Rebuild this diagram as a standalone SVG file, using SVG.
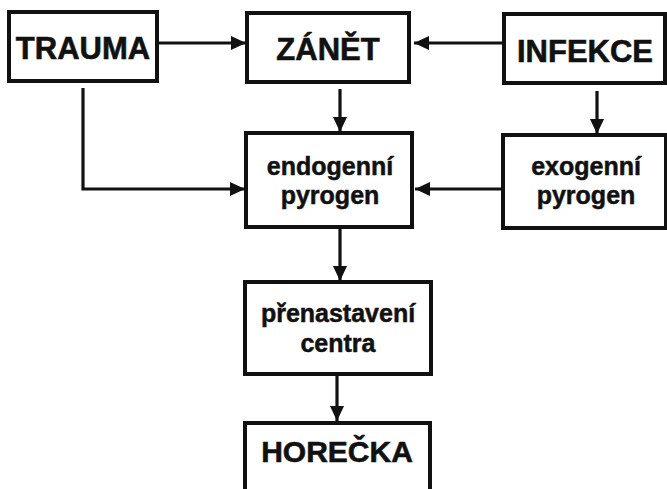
<svg xmlns="http://www.w3.org/2000/svg" width="667" height="489" viewBox="0 0 667 489">
  <style>
    .box { fill: #ffffff; stroke: #111111; stroke-width: 4; }
    .big { font-family: "Liberation Sans", Arial, sans-serif; font-weight: bold; font-size: 31px; fill: #111111; stroke: #111111; stroke-width: 0.6; text-anchor: middle; }
    .small { font-family: "Liberation Sans", Arial, sans-serif; font-weight: bold; font-size: 25px; fill: #111111; stroke: #111111; stroke-width: 0.5; text-anchor: middle; }
    .link { fill: none; stroke: #111111; stroke-width: 3.2; marker-end: url(#arrow); }
  </style>
  <defs>
    <marker id="arrow" viewBox="0 0 15 14" refX="15" refY="7" markerWidth="15" markerHeight="14" markerUnits="userSpaceOnUse" orient="auto">
      <path d="M0,0 L15,7 L0,14 z" fill="#111111"/>
    </marker>
  </defs>
  <rect width="667" height="489" fill="#ffffff"/>

  <!-- arrows between the boxes -->
  <g id="connectors">
    <path class="link" d="M159,43 H246"/>
    <path class="link" d="M502,43 H414"/>
    <path class="link" d="M340,89 V132"/>
    <path class="link" d="M597,91 V134"/>
    <path class="link" d="M83,88 V189 H245"/>
    <path class="link" d="M501,189 H415"/>
    <path class="link" d="M340,229 V281"/>
    <path class="link" d="M337,376 V421"/>
  </g>

  <g id="trauma">
    <rect class="box" x="9" y="12" width="148" height="69"/>
    <text class="big" x="83" y="59">TRAUMA</text>
  </g>
  <g id="zanet">
    <rect class="box" x="247" y="13" width="162" height="69"/>
    <text class="big" x="328" y="60">ZÁNĚT</text>
  </g>
  <g id="infekce">
    <rect class="box" x="504" y="14" width="161" height="69"/>
    <text class="big" x="585" y="62">INFEKCE</text>
  </g>
  <g id="endogenni-pyrogen">
    <rect class="box" x="246" y="133" width="166" height="94"/>
    <text class="small" x="330" y="175">endogenní</text>
    <text class="small" x="330" y="204">pyrogen</text>
  </g>
  <g id="exogenni-pyrogen">
    <rect class="box" x="503" y="135" width="163" height="93"/>
    <text class="small" x="586" y="175">exogenní</text>
    <text class="small" x="586" y="204">pyrogen</text>
  </g>
  <g id="prenastaveni-centra">
    <rect class="box" x="245" y="282" width="186" height="92"/>
    <text class="small" x="338" y="322">přenastavení</text>
    <text class="small" x="338" y="352">centra</text>
  </g>
  <g id="horecka">
    <rect class="box" x="245" y="423" width="185" height="80"/>
    <text class="big" x="337" y="462" style="font-size:30px">HOREČKA</text>
  </g>
</svg>
